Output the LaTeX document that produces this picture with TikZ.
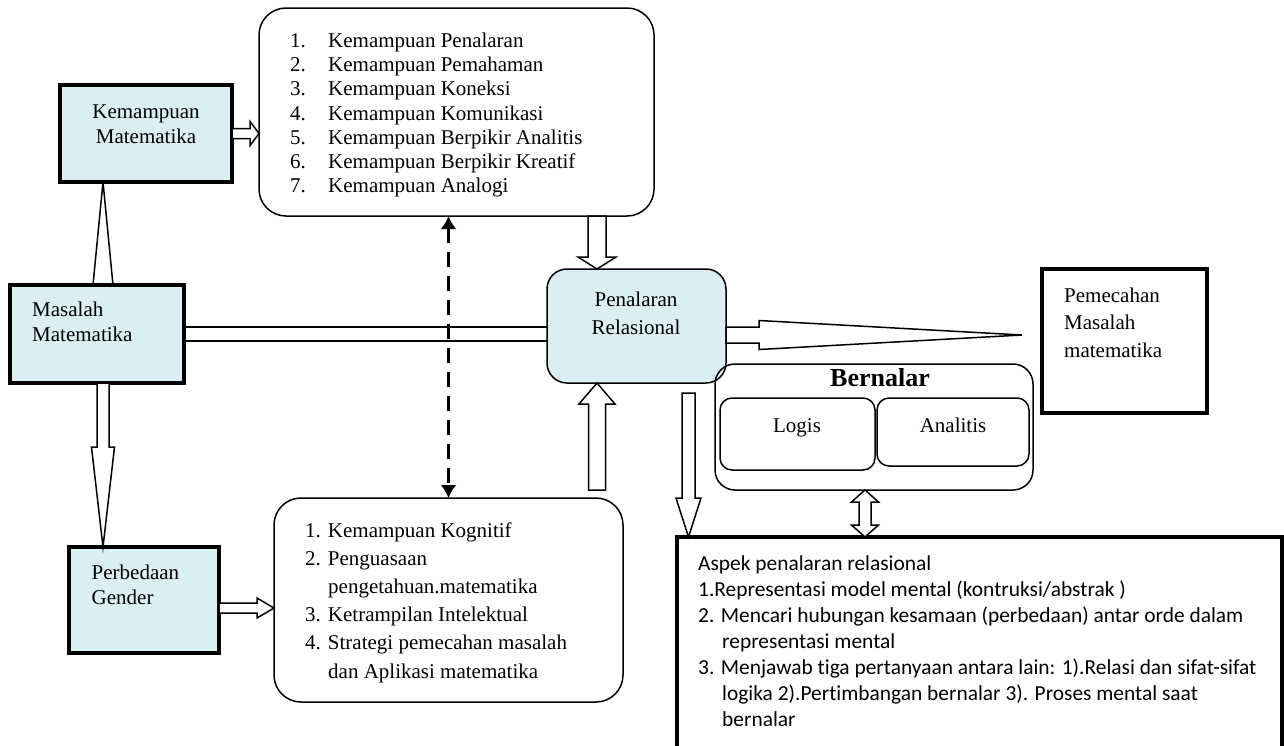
\documentclass[tikz,border=0pt]{standalone}
\usepackage{fontspec}
\setmainfont{Liberation Serif}
\newfontfamily\calibrifont[Ligatures=NoCommon]{Carlito}
\usepackage{tikz}
\usetikzlibrary{arrows.meta}
\definecolor{boxblue}{RGB}{219,238,243}

\begin{document}
\begin{tikzpicture}[x=1pt, y=-1pt,
    bluebox/.style={draw, line width=3.5pt, fill=boxblue, outer sep=0pt},
    thickbox/.style={draw, line width=3.5pt, outer sep=0pt},
    roundbox/.style={draw, line width=1.5pt, rounded corners=27pt, outer sep=0pt},
    hollow/.style={draw, fill=white, line width=1.5pt},
    txt/.style={inner sep=0pt, font=\fontsize{21}{25}\selectfont}]
            \clip (0,0) rectangle (1284,745);

            % boxes
            \node[bluebox, minimum width=172pt, minimum height=97pt] (km) at (146,133.5) {};
            \node[bluebox, minimum width=174pt, minimum height=98pt] (ms) at (97,334) {};
            \node[bluebox, minimum width=150pt, minimum height=106pt] (pg) at (144,600) {};
            \node[roundbox, minimum width=395pt, minimum height=208pt] (tl) at (456.5,112) {};
            \node[roundbox, minimum width=349pt, minimum height=204pt] (bl) at (448.5,600) {};
            \node[roundbox, fill=boxblue, rounded corners=20pt, minimum width=179pt, minimum height=114pt] (pr) at (636.5,326) {};
            \node[thickbox, minimum width=165pt, minimum height=144pt] (pm) at (1124.5,341) {};
            \node[roundbox, rounded corners=20pt, minimum width=318pt, minimum height=126pt] (bn) at (874,427) {};
            \node[roundbox, rounded corners=12pt, minimum width=155pt, minimum height=72pt] (lg) at (797.5,434) {};
            \node[roundbox, rounded corners=12pt, minimum width=152pt, minimum height=68pt] (an) at (953,432) {};
            \node[thickbox, minimum width=605pt, minimum height=223pt] (asp) at (979.5,648.5) {};

            % texts
            \node[txt, align=center] at (146,124.5) {Kemampuan\\Matematika};
            \node[txt, align=left, anchor=west] at (32,322) {Masalah\\Matematika};
            \node[txt, align=left, anchor=west] at (91.5,585) {Perbedaan\\Gender};
            \node[txt, align=center, font=\fontsize{21}{28}\selectfont] at (636,313) {Penalaran\\Relasional};
            \node[txt, align=left, anchor=west, font=\fontsize{21}{27.5}\selectfont] at (1064,322.5) {Pemecahan\\Masalah\\matematika};
            \node[txt, font=\bfseries\fontsize{26}{30}\selectfont] at (880,378) {Bernalar};
            \node[txt, anchor=base] at (797,432) {Logis};
            \node[txt, anchor=base] at (953,432) {Analitis};
            \node[txt, align=left, anchor=west, font=\fontsize{21}{24.3}\selectfont] at (290,115)
                {\makebox[38pt][l]{1.}Kemampuan Penalaran\\
                 \makebox[38pt][l]{2.}Kemampuan Pemahaman\\
                 \makebox[38pt][l]{3.}Kemampuan Koneksi\\
                 \makebox[38pt][l]{4.}Kemampuan Komunikasi\\
                 \makebox[38pt][l]{5.}Kemampuan Berpikir Analitis\\
                 \makebox[38pt][l]{6.}Kemampuan Berpikir Kreatif\\
                 \makebox[38pt][l]{7.}Kemampuan Analogi};
            \node[txt, align=left, anchor=west, font=\fontsize{21}{28.2}\selectfont] at (305,602.5)
                {1. Kemampuan Kognitif\\
                 2. Penguasaan\\
                 \hspace*{23pt}pengetahuan.matematika\\
                 3. Ketrampilan Intelektual\\
                 4. Strategi pemecahan masalah\\
                 \hspace*{23pt}dan Aplikasi matematika};
            \node[txt, align=left, anchor=west, font=\calibrifont\fontsize{21.4}{26}\selectfont] at (698,641)
                {Aspek penalaran relasional\\
                 1.Representasi model mental (kontruksi/abstrak )\\
                 2. Mencari hubungan kesamaan (perbedaan) antar orde dalam\\
                 \hspace*{24pt}representasi mental\\
                 3. Menjawab tiga pertanyaan antara lain: 1).Relasi dan sifat-sifat\\
                 \hspace*{24pt}logika 2).Pertimbangan bernalar 3). Proses mental saat\\
                 \hspace*{24pt}bernalar};

            % arrow ends
            \coordinate (kmb) at ([xshift=-43pt]km.south);
            \coordinate (msb) at (kmb |- ms.south);
            \coordinate (pga) at ([yshift=-8pt]pg.east);
            \coordinate (prn) at ([xshift=-39.5pt]pr.north);
            \coordinate (prs) at (prn |- pr.south);
            \coordinate (pre) at ([yshift=-9pt]pr.east);
            \coordinate (prd) at ([xshift=52pt]pr.south);
            \coordinate (bns) at ([xshift=-9pt]bn.south);
            \coordinate (bandA) at ([yshift=7pt]ms.east);
            \coordinate (bandB) at ([yshift=-7pt]ms.east);

            % block arrows
            \draw[line width=1.5pt] ([xshift=-10pt]kmb |- ms.north) -- (kmb) -- ([xshift=10pt]kmb |- ms.north);
            \draw[hollow] (km.east) ++(0,-5) -- ++(18,0) -- ++(0,-7) -- (tl.west |- km.east) -- ++(-9,12) -- ++(0,-7) -- ++(-18,0) -- cycle;
            \draw[hollow] (msb) ++(-6,0) -- ++(0,64) -- ++(-5.5,0) -- (kmb |- pg.north) -- ++(11.5,-100) -- ++(-5.5,0) -- ++(0,-64) -- cycle;
            \draw[hollow] (pga) ++(0,-5) -- ++(38,0) -- ++(0,-5) -- (pga -| bl.west) -- ++(-17,10) -- ++(0,-5) -- ++(-38,0) -- cycle;
            \draw[hollow] (prn |- tl.south) ++(-9,0) -- ++(0,41) -- ++(-10,0) -- (prn) -- ++(19,-12) -- ++(-10,0) -- ++(0,-41) -- cycle;
            \draw[line width=1.5pt] (bandA) -- (bandA -| pr.west);
            \draw[line width=1.5pt] (bandB) -- (bandB -| pr.west);
            \draw[hollow] (prs) ++(-8.5,107) -- ++(0,-86) -- ++(-9.5,0) -- (prs) -- ++(18,21) -- ++(-9.5,0) -- ++(0,86) -- cycle;
            \draw[hollow] (pre) ++(0,-8) -- ++(33,0) -- ++(0,-6.5) -- ++(263,14.5) -- ++(-263,14.5) -- ++(0,-6.5) -- ++(-33,0) -- cycle;
            \draw[hollow] (prd |- asp.north) -- ++(-12.5,-39) -- ++(6,0) -- ++(0,-105) -- ++(13,0) -- ++(0,105) -- ++(6,0) -- cycle;
            \draw[hollow] (bns) -- ++(13.5,12) -- ++(-7.5,0) -- ++(0,23) -- ++(7.5,0) -- (bns |- asp.north) -- ++(-13.5,-12) -- ++(7.5,0) -- ++(0,-23) -- ++(-7.5,0) -- cycle;

            \draw[line width=3.5pt, dash pattern=on 15pt off 9pt, {Latex[length=13pt,width=16pt]}-{Latex[length=13pt,width=16pt]}] (tl.south -| bl.north) -- (bl.north);
        \end{tikzpicture}
\end{document}
